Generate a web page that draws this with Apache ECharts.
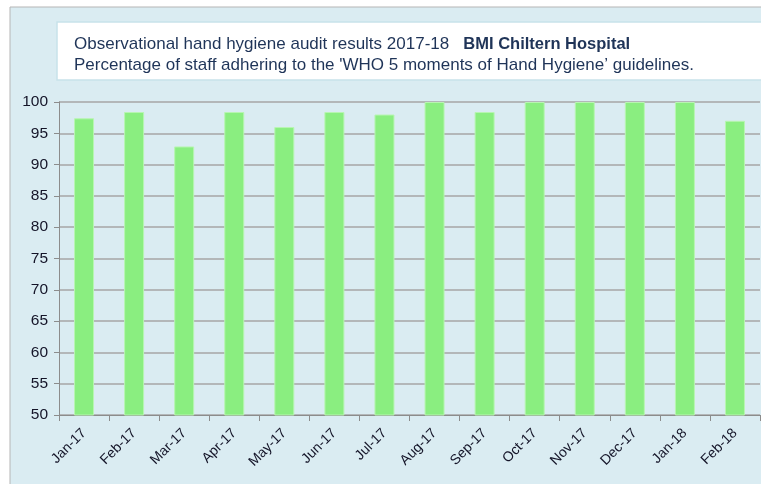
<!DOCTYPE html>
<html>
<head>
<meta charset="utf-8">
<script src="https://cdn.jsdelivr.net/npm/echarts@6/dist/echarts.min.js"></script>
<style>
  html, body { margin: 0; padding: 0; background: #fff; }
  #chart { width: 761px; height: 484px; }
</style>
</head>
<body>
<div id="chart"></div>
<script>
const months = [
  "Jan-17", "Feb-17", "Mar-17", "Apr-17", "May-17", "Jun-17", "Jul-17",
  "Aug-17", "Sep-17", "Oct-17", "Nov-17", "Dec-17", "Jan-18", "Feb-18",
];
const adherence = [97.4, 98.4, 92.9, 98.4, 96, 98.4, 98, 100, 98.4, 100, 100, 100, 100, 97];

const chart = echarts.init(document.getElementById("chart"));

chart.setOption({
  animation: false,
  textStyle: { fontFamily: "Liberation Sans" },
  graphic: [
    {
      type: "rect",
      z: -10,
      shape: { x: 10, y: 7, width: 760, height: 490 },
      style: { fill: "#daecf2", stroke: "#b5b5b5", lineWidth: 1 },
    },
    {
      type: "rect",
      z: -5,
      shape: { x: 57, y: 22, width: 710, height: 58 },
      style: { fill: "#ffffff", stroke: "#c8e2ea", lineWidth: 1.5 },
    },
  ],
  title: {
    left: 69,
    top: 29,
    text: "Observational hand hygiene audit results 2017-18   {b|BMI Chiltern Hospital}\nPercentage of staff adhering to the 'WHO 5 moments of Hand Hygiene’ guidelines.",
    textStyle: {
      fontSize: 17,
      fontWeight: "normal",
      color: "#1f3458",
      lineHeight: 21,
      rich: {
        b: { fontSize: 16.5, fontWeight: "bold", color: "#1f3458", lineHeight: 21 },
      },
    },
  },
  grid: { left: 59, right: 1, top: 102, bottom: 69 },
  xAxis: {
    type: "category",
    data: months,
    axisLine: { lineStyle: { color: "#8c8c8c" } },
    axisTick: { show: true, length: 6, lineStyle: { color: "#8c8c8c" } },
    axisLabel: {
      rotate: 45,
      color: "#141428",
      fontSize: 14,
      margin: 16,
      interval: 0,
    },
  },
  yAxis: {
    type: "value",
    min: 50,
    max: 100,
    interval: 5,
    axisLine: { show: true, lineStyle: { color: "#8c8c8c" } },
    axisTick: { show: true, length: 5, lineStyle: { color: "#8c8c8c" } },
    axisLabel: { color: "#141428", fontSize: 15.5, margin: 11 },
    splitLine: { lineStyle: { color: "#a6a6a6", width: 1.5 } },
  },
  series: [
    {
      type: "bar",
      data: adherence,
      barWidth: 20,
      itemStyle: { color: "#8aee80", borderColor: "#b8f5b2", borderWidth: 1 },
    },
  ],
});
</script>
</body>
</html>
